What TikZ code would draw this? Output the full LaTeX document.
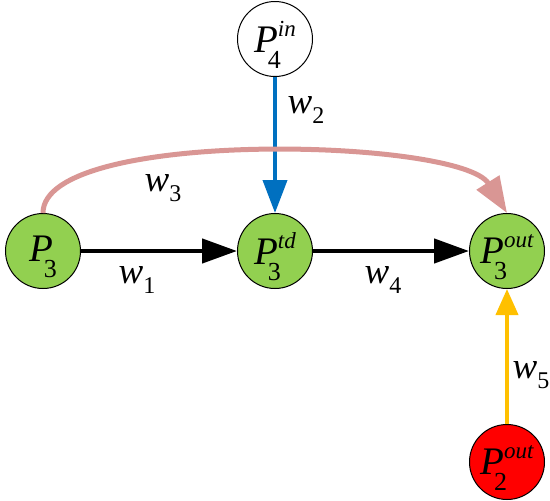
\documentclass[tikz,border=0pt]{standalone}
\usepackage{fontspec}
\setmainfont{Liberation Serif}
\usetikzlibrary{arrows.meta}
\definecolor{cgreen}{HTML}{92D050}
\definecolor{cblue}{HTML}{0070C0}
\definecolor{cpink}{HTML}{D99694}
\definecolor{cyellow}{HTML}{FFC000}
\definecolor{cred}{HTML}{FF0000}
\newcommand{\pbig}{\fontsize{39}{39}\selectfont\itshape P}
\newcommand{\pnode}[2]{\raisebox{-6pt}[\height][\depth]{\pbig\makebox[0pt][l]{\kern-10pt\raisebox{-16pt}{\fontsize{26}{26}\selectfont\upshape #1}}\raisebox{16pt}{\fontsize{23}{23}\selectfont\itshape #2}}}
\newcommand{\pnodeplain}[1]{\raisebox{-6pt}[\height][\depth]{\pbig\kern-9pt\raisebox{-16pt}{\fontsize{26}{26}\selectfont\upshape #1}}}
\newcommand{\wl}[1]{{\fontsize{37}{37}\selectfont\itshape w}\raisebox{-10pt}{\fontsize{24}{24}\selectfont #1}}
\tikzset{
  pnodestyle/.style={circle,draw=black,line width=1pt,minimum size=75pt,inner sep=0pt},
  blackarrow/.style={line width=4.5pt,-{Triangle[length=35pt,width=24pt]}},
  lbl/.style={inner sep=0pt}
}
\begin{document}
\begin{tikzpicture}[x=1pt,y=-1pt]
\useasboundingbox (0,0) rectangle (550,501);
\node[pnodestyle,fill=white] (p4in) at (275,39) {\pnode{4}{in}};
\node[pnodestyle,fill=cgreen] (p3) at (43,251) {\pnodeplain{3}};
\node[pnodestyle,fill=cgreen] (p3td) at (275,251) {\pnode{3}{td}};
\node[pnodestyle,fill=cgreen] (p3out) at (507,251) {\pnode{3}{out}};
\node[pnodestyle,fill=cred] (p2out) at (507,462) {\pnode{2}{out}};
\draw[blackarrow] (p3.east) -- (p3td.west);
\draw[blackarrow] (p3td.east) -- (p3out.west);
\draw[cblue,line width=4pt,-{Triangle[length=33pt,width=24pt]}] (p4in.south) -- (p3td.north);
\draw[cyellow,line width=4pt,-{Triangle[length=26pt,width=22pt]}] (p2out.north) -- (p3out.south);
\draw[cpink,line width=5pt,-{Triangle[length=36pt,width=26pt]}] (p3.north) .. controls (43,128) and (460,138) .. (p3out.north);
\node[lbl] (w1) at (137,280) {\wl{1}};
\node[lbl] (w2) at (306,110) {\wl{2}};
\node[lbl] (w3) at (163,188) {\wl{3}};
\node[lbl] (w4) at (383,280) {\wl{4}};
\node[lbl] (w5) at (531,375) {\wl{5}};
\end{tikzpicture}
\end{document}
